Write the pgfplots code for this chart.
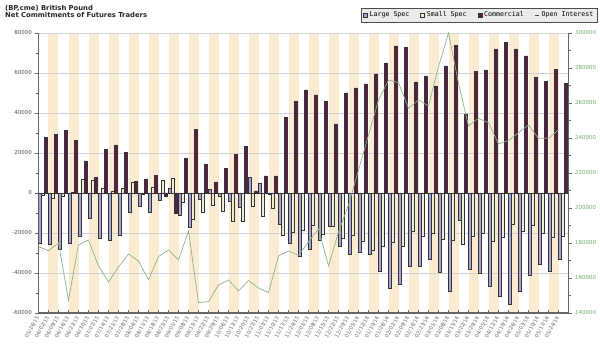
\documentclass[border=0pt]{standalone}
\usepackage{pgfplots}
\pgfplotsset{compat=1.18}
\usepackage{pgfplotstable}
\usepackage{fontspec}
\setmainfont{DejaVu Sans}
\newfontfamily\legfont{DejaVu Sans Mono}
\definecolor{band}{HTML}{FCEBD3}
\definecolor{lspec}{HTML}{A6A6D6}
\definecolor{sspec}{HTML}{F0EED2}
\definecolor{comm}{HTML}{5C1D45}
\definecolor{oi}{HTML}{8DB38B}
\definecolor{axisgray}{HTML}{666666}
\definecolor{oilab}{HTML}{6DAA6D}

\pgfplotstableread{
i L S C OI
0 -25200 -1000 27700 177900
1 -25700 -2700 29300 175600
2 -28200 -1700 31200 180000
3 -25200 500 26200 147400
4 -21800 7000 16000 178900
5 -12700 6200 7700 181700
6 -22700 2300 21700 166900
7 -23800 1000 24000 157700
8 -21000 2300 20300 166300
9 -9700 5200 5700 173700
10 -6500 -500 7000 169700
11 -9800 2800 8700 158900
12 -3500 6500 -1800 172200
13 2500 7300 -10200 176000
14 -11000 -4800 17300 170300
15 -17200 -13000 31700 186900
16 -3200 -9800 14300 145900
17 1800 -6300 5500 146500
18 -1800 -9000 12200 156000
19 -4300 -14300 19300 158900
20 -7200 -14300 23300 152600
21 7800 -6800 1000 158500
22 4800 -11800 8500 154300
23 -800 -7700 8500 151600
24 -15500 -21000 37700 172600
25 -25200 -19700 45700 175400
26 -31800 -18500 51500 173100
27 -28200 -16000 49000 180600
28 -23500 -20700 45700 188000
29 -16800 -16800 34500 166900
30 -26500 -22700 50000 186300
31 -30500 -21000 52500 201700
32 -29500 -24000 54500 221700
33 -30700 -28500 59500 241700
34 -39000 -26500 65000 261700
35 -47800 -24700 73500 273100
36 -45700 -26800 72700 271600
37 -36800 -19000 55500 257000
38 -36800 -21800 58500 261700
39 -33200 -20200 53500 258300
40 -39800 -23000 63500 280700
41 -49000 -23500 73800 300000
42 -13700 -25700 39500 271300
43 -38200 -21800 60700 246900
44 -40200 -20200 61500 251300
45 -46800 -24300 71800 248700
46 -51800 -22300 75200 236600
47 -55700 -15500 72000 238500
48 -49000 -19300 68500 243000
49 -41200 -16300 57800 247400
50 -35700 -20200 55800 239800
51 -39000 -22300 61800 239800
52 -33000 -21500 54800 244600
}\cotdata

\begin{document}
\begin{tikzpicture}
\useasboundingbox (0pt,0pt) rectangle (600pt,352pt);
% background bands
\begin{axis}[at={(38.5pt,39pt)}, anchor=south west, scale only axis,
  width=530pt, height=280pt, xmin=0, xmax=53, ymin=0, ymax=1, hide axis]
\pgfplotsinvokeforeach{1,3,...,51}{
  \fill[band] (axis cs:#1,0) rectangle ([xshift=10pt]axis cs:#1,1);
}
\end{axis}
% bars
\begin{axis}[at={(38.5pt,39pt)}, anchor=south west, scale only axis,
  width=530pt, height=280pt,
  xmin=0, xmax=53, ymin=-60000, ymax=80000,
  axis x line*=bottom, axis y line*=left,
  axis line style={axisgray, line width=1.3pt},
  ytick={-60000,-40000,...,80000}, minor y tick num=1,
  scaled y ticks=false,
  ymajorgrids, grid style={black!18, line width=0.4pt},
  extra y ticks={0}, extra y tick labels={},
  extra y tick style={grid style={black!85, line width=0.7pt}},
  tick align=outside,
  major tick length=3pt, minor tick length=2pt,
  tick style={axisgray, line width=0.6pt},
  x tick style={yshift=3pt},
  xtick={0,...,52},
  xticklabels={05/26/15,06/02/15,06/09/15,06/16/15,06/23/15,06/30/15,07/07/15,07/14/15,07/21/15,07/28/15,08/04/15,08/11/15,08/18/15,08/25/15,09/01/15,09/08/15,09/15/15,09/22/15,09/29/15,10/06/15,10/13/15,10/20/15,10/27/15,11/03/15,11/10/15,11/17/15,11/24/15,12/01/15,12/08/15,12/15/15,12/22/15,12/29/15,01/05/16,01/12/16,01/19/16,01/26/16,02/02/16,02/09/16,02/16/16,02/23/16,03/01/16,03/08/16,03/15/16,03/22/16,03/29/16,04/05/16,04/12/16,04/19/16,04/26/16,05/03/16,05/10/16,05/17/16,05/24/16},
  x tick label style={rotate=60, anchor=east, font=\fontsize{5.2}{6}\selectfont, text=black!60, inner sep=1pt},
  y tick label style={font=\fontsize{5.5}{6}\selectfont, text=black!70},
  /pgf/number format/fixed, /pgf/number format/precision=0,
  /pgf/number format/1000 sep={}, /pgf/number format/assume math mode=true,
  legend style={at={(axis description cs:1.054,1.089)}, anchor=north east,
    legend columns=4, font=\legfont\fontsize{6.6}{7.5}\selectfont,
    fill=black!8, draw=black!70, line width=0.6pt, inner sep=1.5pt,
    /tikz/every even column/.append style={column sep=9pt}},
  legend image code/.code={\draw[#1, line width=0.5pt] (0pt,-2pt) rectangle (4pt,2pt);}
]
\addplot[ybar, bar width=3pt, bar shift=0pt, fill=lspec, draw=black!80, line width=0.4pt]
  table[x expr=\thisrow{i}+0.15, y=L]{\cotdata};
\addlegendentry{Large Spec}
\addplot[ybar, bar width=3pt, bar shift=0pt, fill=sspec, draw=black!80, line width=0.4pt]
  table[x expr=\thisrow{i}+0.45, y=S]{\cotdata};
\addlegendentry{Small Spec}
\addplot[ybar, bar width=3pt, bar shift=0pt, fill=comm, draw=black!80, line width=0.4pt]
  table[x expr=\thisrow{i}+0.75, y=C]{\cotdata};
\addlegendentry{Commercial}
\addlegendimage{legend image code/.code={\draw[black!70, line width=0.8pt] (0pt,0pt) -- (4pt,0pt);}}
\addlegendentry{Open Interest}
\end{axis}
% open interest
\begin{axis}[at={(38.5pt,39pt)}, anchor=south west, scale only axis,
  width=530pt, height=280pt,
  xmin=0, xmax=53, ymin=140000, ymax=300000,
  axis x line=none, axis y line*=right,
  axis line style={axisgray, line width=1.3pt},
  ytick={140000,160000,...,300000}, minor y tick num=1,
  scaled y ticks=false,
  tick align=outside,
  major tick length=3pt, minor tick length=2pt,
  tick style={axisgray, line width=0.6pt},
  y tick label style={font=\fontsize{5.5}{6}\selectfont, text=oilab},
  /pgf/number format/fixed, /pgf/number format/precision=0,
  /pgf/number format/1000 sep={}, /pgf/number format/assume math mode=true
]
\addplot[oi, line width=0.7pt, mark=none] table[x=i, y=OI]{\cotdata};
\end{axis}
\node[anchor=north west, font=\bfseries\fontsize{6.8}{7.6}\selectfont, align=left, inner sep=0pt, text=black!85]
  at (5pt,347pt) {(BP,cme) British Pound\\Net Commitments of Futures Traders};
\end{tikzpicture}
\end{document}
